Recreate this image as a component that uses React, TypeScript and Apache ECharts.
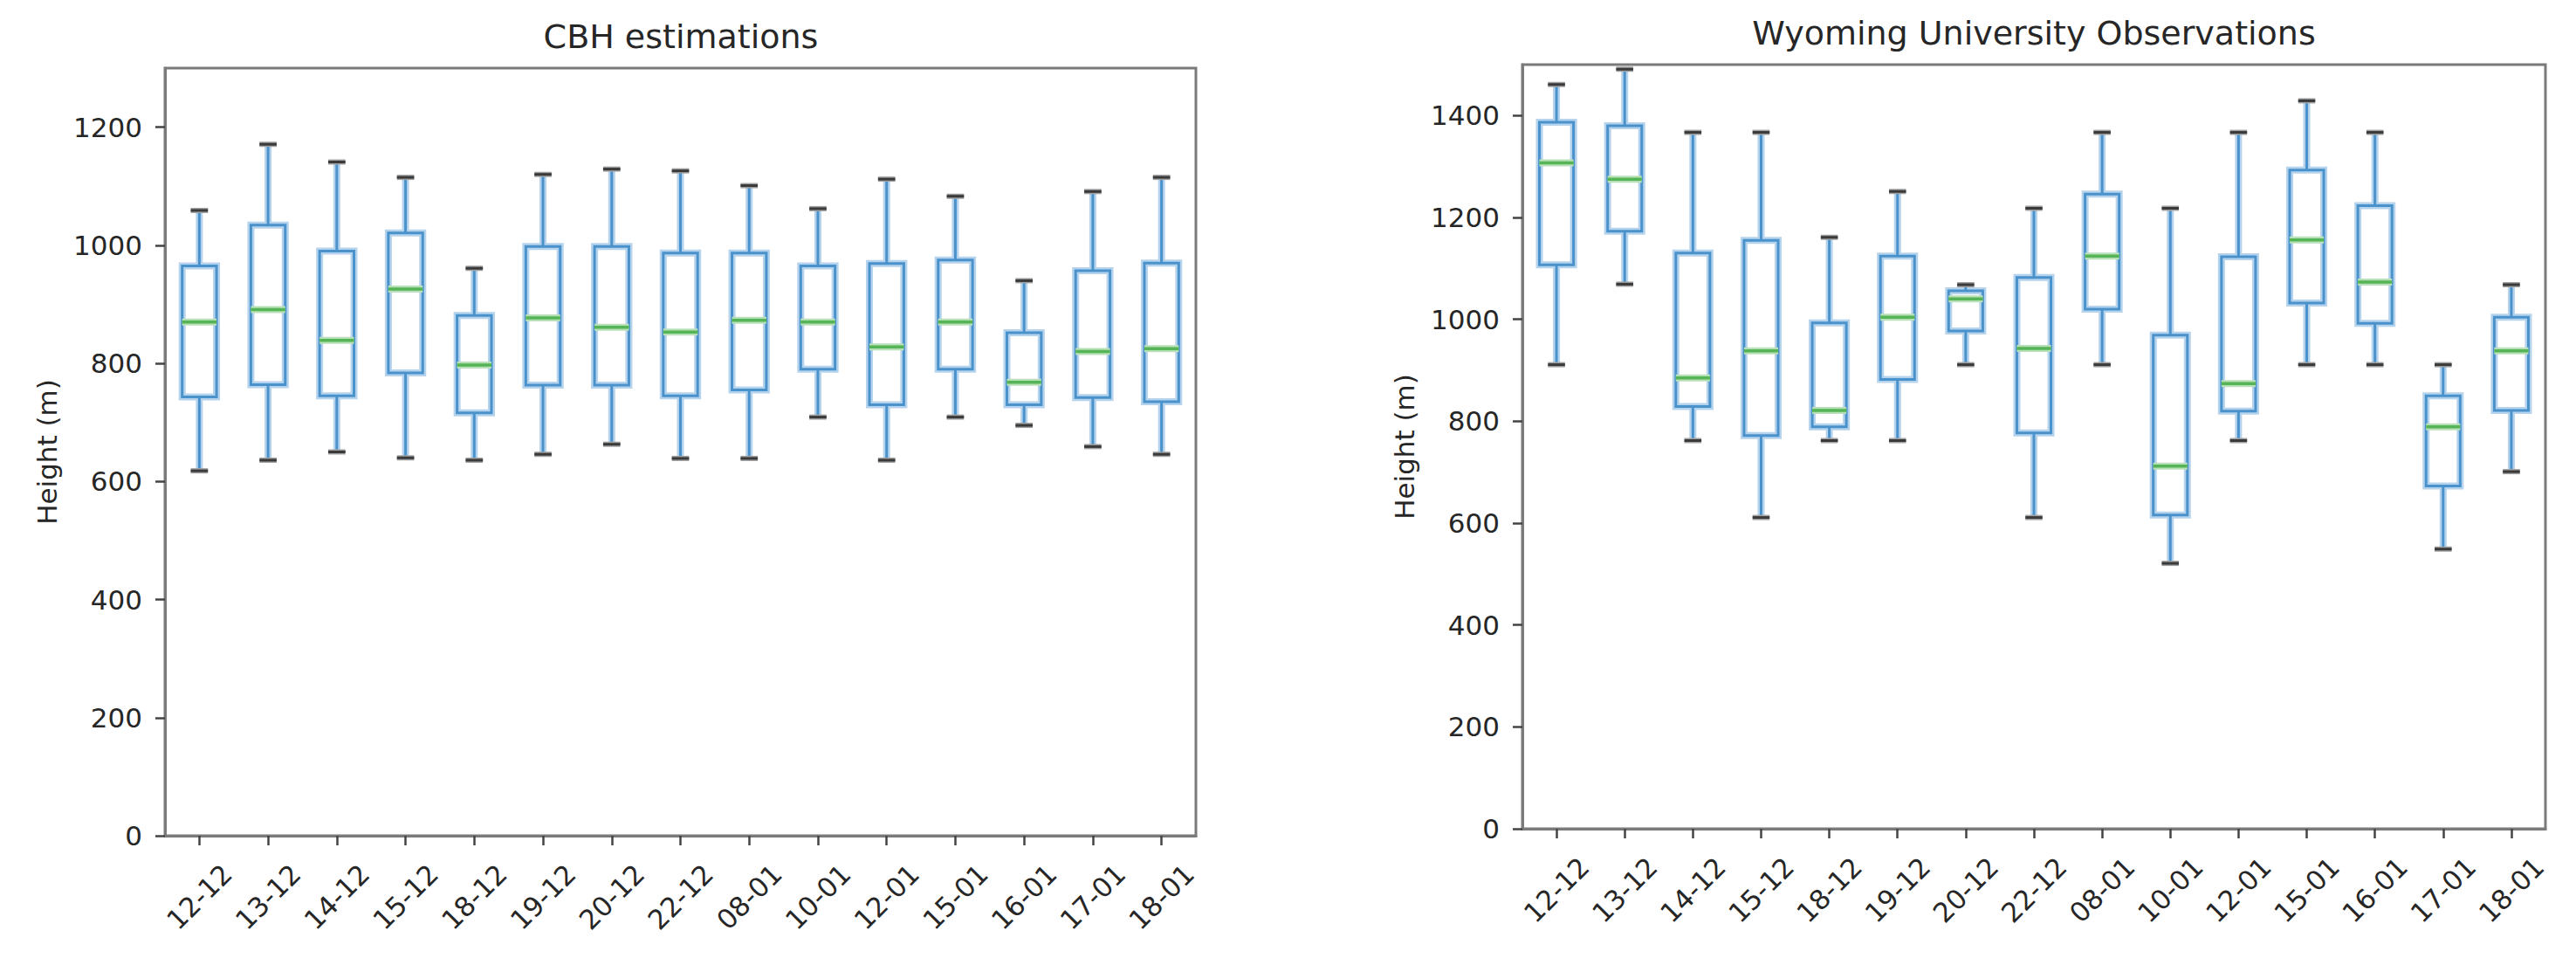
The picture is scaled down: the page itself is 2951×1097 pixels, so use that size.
import React, { useEffect, useRef } from 'react';
import * as echarts from 'echarts';

const categories = ['12-12', '13-12', '14-12', '15-12', '18-12', '19-12', '20-12', '22-12', '08-01', '10-01', '12-01', '15-01', '16-01', '17-01', '18-01'];

// CBH estimations (left panel)
const cbhMin = [618, 636, 650, 640, 636, 646, 663, 639, 639, 709, 636, 709, 695, 659, 646];
const cbhQ1 = [743, 764, 745, 784, 716, 763, 763, 745, 755, 790, 730, 790, 730, 742, 735];
const cbhMedian = [870, 891, 839, 926, 797, 877, 861, 853, 873, 870, 828, 870, 768, 820, 825];
const cbhQ3 = [965, 1034, 990, 1021, 881, 998, 998, 987, 987, 965, 969, 975, 852, 957, 970];
const cbhMax = [1059, 1171, 1141, 1115, 961, 1120, 1129, 1126, 1101, 1062, 1112, 1083, 940, 1091, 1115];

// Wyoming University Observations (right panel)
const wyoMin = [911, 1069, 762, 611, 762, 762, 911, 611, 911, 521, 762, 911, 911, 549, 701];
const wyoQ1 = [1107, 1173, 829, 772, 789, 882, 977, 777, 1020, 616, 820, 1032, 992, 673, 821];
const wyoMedian = [1307, 1275, 885, 938, 821, 1004, 1040, 943, 1124, 712, 874, 1156, 1073, 789, 938];
const wyoQ3 = [1387, 1380, 1130, 1155, 993, 1124, 1056, 1082, 1246, 969, 1123, 1293, 1223, 850, 1004];
const wyoMax = [1461, 1491, 1367, 1367, 1161, 1251, 1068, 1218, 1367, 1218, 1367, 1429, 1367, 911, 1068];

const leftTicks = [0, 200, 400, 600, 800, 1000, 1200];
const rightTicks = [0, 200, 400, 600, 800, 1000, 1200, 1400];

const titles = ['CBH estimations', 'Wyoming University Observations'];
const yName = 'Height (m)';

const FONT = 'DejaVu Sans';
const TEXT = '#262626';
const FRAME = '#7a7a7a';
const BLUE = '#4a92cc';
const BLUE_HALO = '#b5d3ec';
const GREEN = '#55b455';
const GREEN_HALO = '#b8e0b8';
const CAP = '#3a3a3a';

const buildData = (mn: number[], q1: number[], md: number[], q3: number[], mx: number[]) =>
  categories.map((_, i) => [i, mn[i], q1[i], md[i], q3[i], mx[i]]);

const renderBox = (params: any, api: any) => {
  const idx = api.value(0);
  const pMin = api.coord([idx, api.value(1)]);
  const pQ1 = api.coord([idx, api.value(2)]);
  const pMed = api.coord([idx, api.value(3)]);
  const pQ3 = api.coord([idx, api.value(4)]);
  const pMax = api.coord([idx, api.value(5)]);
  const band = api.size([1, 0])[0];
  const half = band * 0.25;
  const capHalf = band * 0.125;
  const x = pMin[0];
  const line = (x1: number, y1: number, x2: number, y2: number, stroke: string, w: number) => ({
    type: 'line',
    shape: { x1, y1, x2, y2 },
    style: { stroke, lineWidth: w, fill: 'none' },
  });
  const rect = (stroke: string, w: number) => ({
    type: 'rect',
    shape: { x: x - half, y: pQ3[1], width: 2 * half, height: pQ1[1] - pQ3[1] },
    style: { stroke, lineWidth: w, fill: 'none' },
  });
  return {
    type: 'group',
    children: [
      line(x, pQ3[1], x, pMax[1], BLUE_HALO, 8),
      line(x, pQ1[1], x, pMin[1], BLUE_HALO, 8),
      rect(BLUE_HALO, 8),
      line(x, pQ3[1], x, pMax[1], BLUE, 3),
      line(x, pQ1[1], x, pMin[1], BLUE, 3),
      rect(BLUE, 3),
      line(x - half, pMed[1], x + half, pMed[1], GREEN_HALO, 8),
      line(x - half, pMed[1], x + half, pMed[1], GREEN, 3.5),
      line(x - capHalf, pMax[1], x + capHalf, pMax[1], '#a0a0a0', 6),
      line(x - capHalf, pMin[1], x + capHalf, pMin[1], '#a0a0a0', 6),
      line(x - capHalf, pMax[1], x + capHalf, pMax[1], CAP, 3),
      line(x - capHalf, pMin[1], x + capHalf, pMin[1], CAP, 3),
    ],
  };
};

const makeX = (gridIndex: number) => ({
  type: 'category',
  gridIndex,
  data: categories,
  boundaryGap: true,
  axisLine: { show: true, lineStyle: { color: FRAME, width: 3 } },
  axisTick: { show: true, alignWithLabel: true, length: 11, lineStyle: { color: '#444', width: 2.5 } },
  axisLabel: {
    interval: 0,
    rotate: 45,
    align: 'center',
    verticalAlign: 'middle',
    margin: 70,
    fontSize: 31,
    fontFamily: FONT,
    color: TEXT,
  },
  splitLine: { show: false },
});

const makeY = (gridIndex: number, max: number, ticks: number[]) => ({
  type: 'value',
  gridIndex,
  min: 0,
  max,
  interval: 200,
  name: yName,
  nameLocation: 'middle',
  nameGap: 120,
  nameTextStyle: { fontSize: 31, fontFamily: FONT, color: TEXT },
  axisLine: { show: true, lineStyle: { color: FRAME, width: 3 } },
  axisTick: { show: true, length: 11, customValues: ticks, lineStyle: { color: '#444', width: 2.5 } },
  axisLabel: {
    customValues: ticks,
    margin: 26,
    fontSize: 31,
    fontFamily: FONT,
    color: TEXT,
    formatter: (v: number) => (v % 200 === 0 ? String(v) : ''),
  },
  splitLine: { show: false },
});

export default function App() {
  const ref = useRef<HTMLDivElement>(null);
  useEffect(() => {
    if (!ref.current) return;
    const chart = echarts.init(ref.current, null, { renderer: 'svg' });
    chart.setOption({
      animation: false,
      backgroundColor: '#ffffff',
      textStyle: { fontFamily: FONT },
      grid: [
        { left: 189, top: 78, width: 1181, height: 879, show: true, borderColor: FRAME, borderWidth: 3, backgroundColor: 'transparent' },
        { left: 1744, top: 74, width: 1172, height: 875, show: true, borderColor: FRAME, borderWidth: 3, backgroundColor: 'transparent' },
      ],
      xAxis: [makeX(0), makeX(1)],
      yAxis: [makeY(0, 1300, leftTicks), makeY(1, 1500, rightTicks)],
      graphic: [
        {
          type: 'text',
          x: 780,
          y: 42,
          style: { text: titles[0], fontSize: 38, fontFamily: FONT, fill: TEXT, align: 'center', verticalAlign: 'middle', textAlign: 'center', textVerticalAlign: 'middle' },
        },
        {
          type: 'text',
          x: 2330,
          y: 38,
          style: { text: titles[1], fontSize: 38, fontFamily: FONT, fill: TEXT, align: 'center', verticalAlign: 'middle', textAlign: 'center', textVerticalAlign: 'middle' },
        },
      ],
      series: [
        {
          type: 'custom',
          name: titles[0],
          xAxisIndex: 0,
          yAxisIndex: 0,
          renderItem: renderBox,
          encode: { x: 0, y: [1, 2, 3, 4, 5] },
          data: buildData(cbhMin, cbhQ1, cbhMedian, cbhQ3, cbhMax),
        },
        {
          type: 'custom',
          name: titles[1],
          xAxisIndex: 1,
          yAxisIndex: 1,
          renderItem: renderBox,
          encode: { x: 0, y: [1, 2, 3, 4, 5] },
          data: buildData(wyoMin, wyoQ1, wyoMedian, wyoQ3, wyoMax),
        },
      ],
    });
    return () => chart.dispose();
  }, []);
  return (
    <div
      ref={ref}
      style={{ position: 'absolute', left: 0, top: 0, width: '2951px', height: '1097px' }}
    />
  );
}
